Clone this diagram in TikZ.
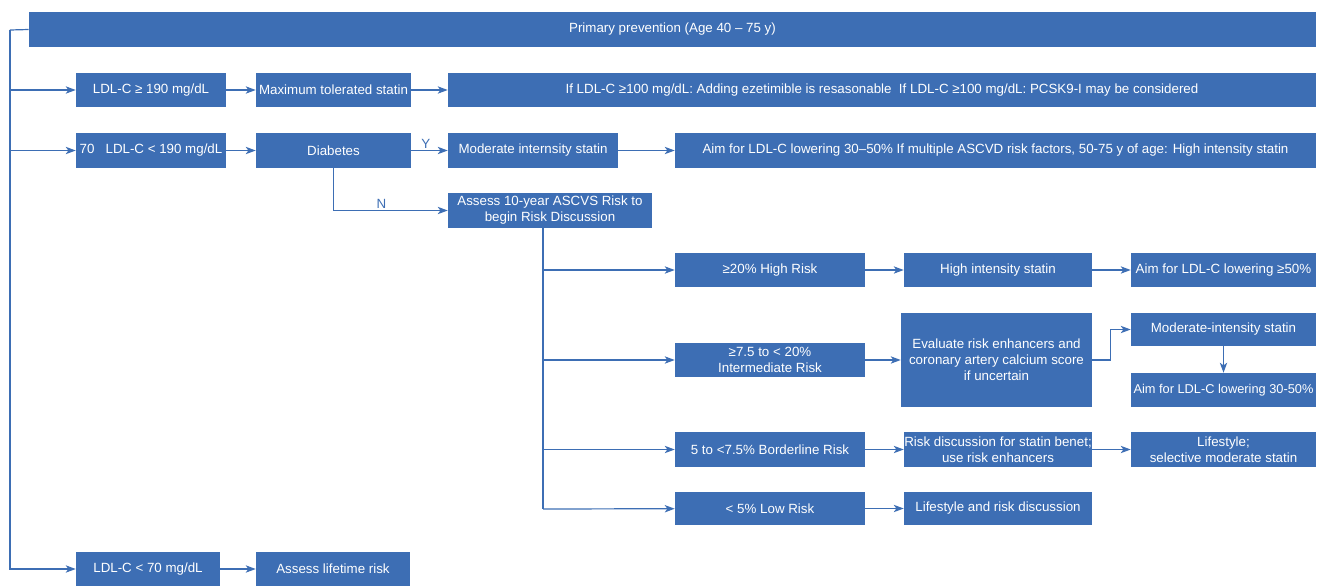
\documentclass[tikz,border=0pt]{standalone}
\usepackage{fontspec}
\setmainfont{Liberation Sans}
\usepackage{tikz}
\usetikzlibrary{arrows.meta,calc,positioning}
\definecolor{boxblue}{RGB}{61,110,180}

\begin{document}
\begin{tikzpicture}[x=0.75pt,y=-0.75pt,>={Stealth[length=7.5pt,width=5.5pt,inset=2pt]},
  blk/.style 2 args={fill=boxblue,text=white,align=center,inner xsep=0pt,inner ysep=1pt,
    font=\fontsize{10}{12}\selectfont,minimum width=#1*0.75pt,minimum height=#2*0.75pt},
  arr/.style={->,draw=boxblue,line width=0.9pt},
  lbl/.style={text=boxblue,font=\fontsize{10}{12}\selectfont,inner sep=1pt}]
\useasboundingbox (0,0) rectangle (1322,586);
\node[blk={1287}{35}] (top) at (672.5,29.5) {Primary prevention (Age 40 – 75 y)};
\node[blk={150}{34}] (ldlA) at (151,90) {LDL-C ≥ 190 mg/dL};
\node[blk={155}{34}] (maxst) at (333.5,90) {Maximum tolerated statin};
\node[blk={868}{34}] (ezet) at (882,90) {If LDL-C ≥100 mg/dL: Adding ezetimible is resasonable\ \ If LDL-C ≥100 mg/dL: PCSK9-I may be considered};
\node[blk={150}{35}] (ldlB) at (151,150.5) {70\ \ \ LDL-C < 190 mg/dL};
\node[blk={155}{35}] (diab) at (333.5,150.5) {Diabetes};
\node[blk={170}{35}] (modst) at (533,150.5) {Moderate internsity statin};
\node[blk={641}{35}] (aimA) at (995.5,150.5) {Aim for LDL-C lowering 30–50\% If multiple ASCVD risk factors, 50-75 y of age: High intensity statin};
\node[blk={204}{35}] (assess) at (550,210.5) {Assess 10-year ASCVS Risk to\\begin Risk Discussion};
\node[blk={190}{34}] (high) at (770,270) {≥20\% High Risk};
\node[blk={188}{34}] (highst) at (998,270) {High intensity statin};
\node[blk={185}{34}] (aimB) at (1223.5,270) {Aim for LDL-C lowering ≥50\%};
\node[blk={190}{34}] (inter) at (770,360) {≥7.5 to < 20\%\\Intermediate Risk};
\node[blk={191}{94}] (evalu) at (996.5,360) {Evaluate risk enhancers and\\coronary artery calcium score\\if uncertain};
\node[blk={185}{33}] (modint) at (1223.5,329.5) {Moderate-intensity statin};
\node[blk={185}{34},font=\fontsize{9.6}{12}\selectfont] (aimC) at (1223.5,390) {Aim for LDL-C lowering 30-50\%};
\node[blk={190}{35}] (border) at (770,449.5) {5 to <7.5\% Borderline Risk};
\node[blk={188}{35}] (rdisc) at (998,449.5) {Risk discussion for statin benet;\\use risk enhancers};
\node[blk={185}{35}] (lifesel) at (1223.5,449.5) {Lifestyle;\\selective moderate statin};
\node[blk={190}{33}] (low) at (770,508.5) {< 5\% Low Risk};
\node[blk={188}{33}] (ldisc) at (998,508.5) {Lifestyle and risk discussion};
\node[blk={144}{34}] (ldlC) at (148,569) {LDL-C < 70 mg/dL};
\node[blk={154}{34}] (lifet) at (333,569) {Assess lifetime risk};
\coordinate (spine) at (10,30);
\coordinate (trunk) at (543,509);
\draw[draw=boxblue,line width=0.9pt] (top.west) -- (spine);
\draw[arr] (spine) |- (ldlC);
\draw[arr] (spine |- ldlA) -- (ldlA);
\draw[arr] (spine |- ldlB) -- (ldlB);
\draw[arr] (ldlA) -- (maxst);
\draw[arr] (maxst) -- (ezet);
\draw[arr] (ldlB) -- (diab);
\draw[arr] (diab) -- node[lbl,above,pos=0.4] (yes) {Y} (modst);
\draw[arr] (modst) -- (aimA);
\draw[arr] (diab.south) |- node[lbl,above,pos=0.71] (no) {N} (assess.west);
\draw[draw=boxblue,line width=0.9pt] (assess.south -| trunk) -- (trunk);
\draw[arr] (trunk |- high) -- (high);
\draw[arr] (trunk |- inter) -- (inter);
\draw[arr] (trunk |- border) -- (border);
\draw[arr] (trunk) -- (low);
\draw[arr] (high) -- (highst);
\draw[arr] (highst) -- (aimB);
\draw[arr] (inter) -- (evalu);
\draw[arr] (evalu.east) -- ++(18,0) |- (modint.west);
\draw[arr] (modint) -- (aimC);
\draw[arr] (border) -- (rdisc);
\draw[arr] (rdisc) -- (lifesel);
\draw[arr] (low) -- (ldisc);
\draw[arr] (ldlC) -- (lifet);
\end{tikzpicture}
\end{document}
